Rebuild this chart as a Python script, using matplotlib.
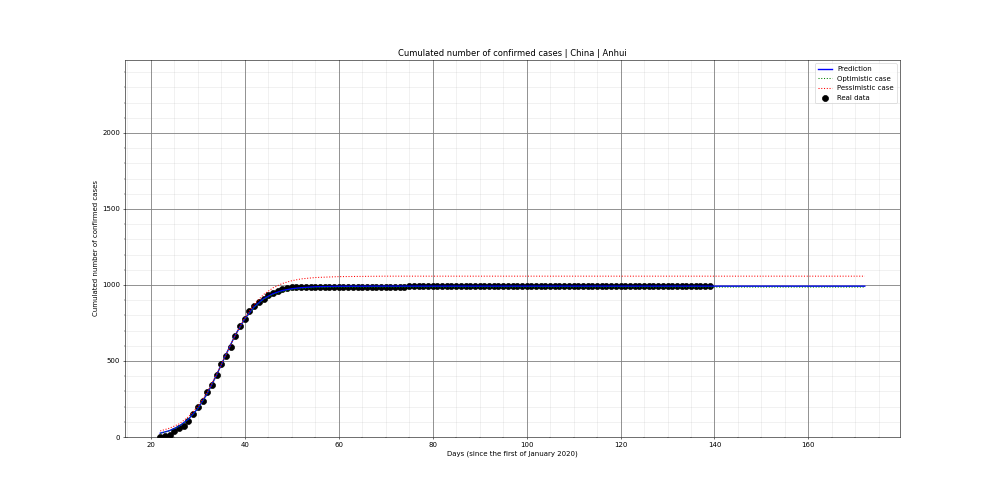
import matplotlib
matplotlib.use('Agg')
import matplotlib.pyplot as plt

# real data (Anhui), day index since 1 Jan 2020
real_days = list(range(22, 140))
real_cases = [
    1, 9, 15, 39, 60, 70, 106, 152, 200, 237,
    297, 340, 408, 480, 530, 591, 665, 733, 779, 830,
    860, 889, 910, 934, 950, 962, 973, 982, 986, 987,
    988, 989, 989, 989, 989, 989, 989, 990, 990, 990,
    990, 990, 990, 990, 990, 990, 990, 990, 990, 990,
    990, 990, 990, 991, 991, 991, 991, 991, 991, 991,
    991, 991, 991, 991, 991, 991, 991, 991, 991, 991,
    991, 991, 991, 991, 991, 991, 991, 991, 991, 991,
    991, 991, 991, 991, 991, 991, 991, 991, 991, 991,
    991, 991, 991, 991, 991, 991, 991, 991, 991, 991,
    991, 991, 991, 991, 991, 991, 991, 991, 991, 991,
    991, 991, 991, 991, 991, 991, 991, 991,
]

# model curves
model_days = [22, 24, 26, 28, 30, 32, 34, 36, 38, 40, 42, 44, 46, 48, 50, 52, 55, 60, 70, 90, 172]
prediction = [25, 42, 71, 117, 187, 285, 408, 543, 672, 778, 856, 909, 942, 963, 975, 982, 988, 991, 992, 992, 992]
optimistic = [24, 41, 70, 116, 186, 284, 407, 542, 671, 776, 853, 905, 937, 957, 969, 976, 982, 985, 986, 986, 986]
pessimistic = [40, 58, 86, 132, 201, 295, 412, 542, 671, 784, 873, 937, 981, 1010, 1028, 1040, 1049, 1055, 1058, 1058, 1058]

fig, ax = plt.subplots(figsize=(20, 10), dpi=50)
fig.subplots_adjust(bottom=0.126)

ax.plot(model_days, prediction, color='blue', linewidth=2, label='Prediction', zorder=3)
ax.plot(model_days, optimistic, color='green', linestyle=':', linewidth=1.5, label='Optimistic case', zorder=4)
ax.plot(model_days, pessimistic, color='red', linestyle=':', linewidth=1.5, label='Pessimistic case', zorder=4)
ax.scatter(real_days, real_cases, s=75, color='black', label='Real data', zorder=2)

ax.set_xlim(14.5, 179.5)
ax.set_ylim(0, 2480)
ax.set_title('Cumulated number of confirmed cases | China | Anhui')
ax.set_xlabel('Days (since the first of January 2020)')
ax.set_ylabel('Cumulated number of confirmed cases')

ax.minorticks_on()
ax.grid(which='major', color='gray', linewidth=1.2)
ax.grid(which='minor', color='gray', alpha=0.15, linewidth=1)
ax.set_axisbelow(True)

ax.legend(loc='upper right')
fig.savefig('out.png')
